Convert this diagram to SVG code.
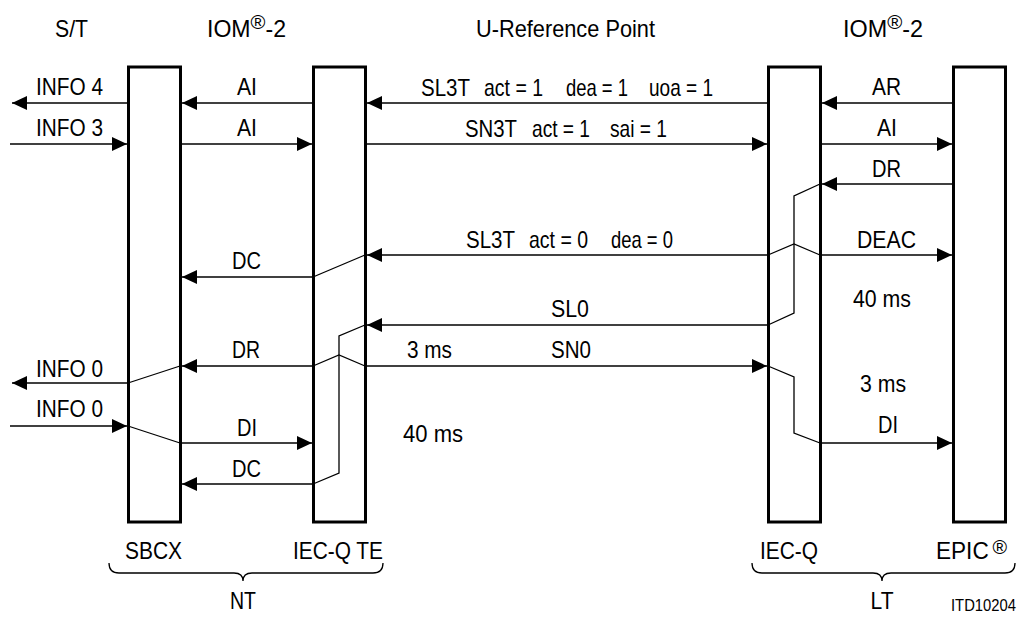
<svg xmlns="http://www.w3.org/2000/svg" width="1027" height="631" viewBox="0 0 1027 631">
<defs>
<marker id="ah" markerUnits="userSpaceOnUse" viewBox="0 0 15 14" refX="15" refY="7" markerWidth="15" markerHeight="14" orient="auto">
<path d="M0,0 L15,7 L0,14 Z" fill="#000"/>
</marker>
<style>
text{font-family:"Liberation Sans",Arial,sans-serif;font-size:24px;fill:#000}
.c{text-anchor:middle}
.r{font-size:21px}
.s{font-size:17px}
.box{fill:#fff;stroke:#000;stroke-width:3}
.a{stroke:#000;stroke-width:1.3;fill:none;marker-end:url(#ah)}
.l{stroke:#000;stroke-width:1.3;fill:none}
</style>
</defs>
<rect width="1027" height="631" fill="#fff"/>

<g id="headers">
<text x="55" y="37" textLength="33" lengthAdjust="spacingAndGlyphs">S/T</text>
<text x="207" y="37" textLength="79" lengthAdjust="spacingAndGlyphs">IOM<tspan class="r" dy="-8">®</tspan><tspan dy="8">-2</tspan></text>
<text x="476" y="37" textLength="179" lengthAdjust="spacingAndGlyphs">U-Reference Point</text>
<text x="843" y="37" textLength="80" lengthAdjust="spacingAndGlyphs">IOM<tspan class="r" dy="-8">®</tspan><tspan dy="8">-2</tspan></text>
</g>

<g id="node-sbcx">
<rect class="box" x="128.5" y="67" width="52" height="455"/>
<text x="125" y="559" textLength="57" lengthAdjust="spacingAndGlyphs">SBCX</text>
</g>
<g id="node-iecqte">
<rect class="box" x="313.5" y="67" width="52" height="455"/>
<text x="293" y="559" textLength="90" lengthAdjust="spacingAndGlyphs">IEC-Q TE</text>
</g>
<g id="node-iecq">
<rect class="box" x="768.5" y="67" width="52" height="455"/>
<text x="760" y="559" textLength="58" lengthAdjust="spacingAndGlyphs">IEC-Q</text>
</g>
<g id="node-epic">
<rect class="box" x="953.5" y="67" width="52" height="455"/>
<text x="936" y="559" textLength="71" lengthAdjust="spacingAndGlyphs">EPIC<tspan class="r" dx="4" dy="-5">®</tspan></text>
</g>

<g id="group-nt">
<path class="l" d="M109,563 Q109,573 119,573 L234,573 Q243,573 243,581 Q243,573 252,573 L373,573 Q383,573 383,563"/>
<text x="243" y="609" class="c" textLength="26" lengthAdjust="spacingAndGlyphs">NT</text>
</g>
<g id="group-lt">
<path class="l" d="M752,563 Q752,573 762,573 L873,573 Q882,573 882,581 Q882,573 891,573 L1005,573 Q1015,573 1015,563"/>
<text x="882" y="609" class="c" textLength="23" lengthAdjust="spacingAndGlyphs">LT</text>
</g>
<text x="951" y="611" class="s" textLength="65" lengthAdjust="spacingAndGlyphs">ITD10204</text>

<g id="connectors">
<line class="a" x1="127" y1="103" x2="12" y2="103"/>
<line class="a" x1="313" y1="103" x2="182" y2="103"/>
<line class="a" x1="768" y1="103" x2="367" y2="103"/>
<line class="a" x1="953" y1="103" x2="822" y2="103"/>

<line class="a" x1="10" y1="144" x2="127" y2="144"/>
<line class="a" x1="182" y1="144" x2="312" y2="144"/>
<line class="a" x1="367" y1="144" x2="767" y2="144"/>
<line class="a" x1="822" y1="144" x2="952" y2="144"/>

<line class="a" x1="953" y1="184" x2="822" y2="184"/>
<polyline class="l" points="820,184 794,196 794,313 768,325"/>

<line class="a" x1="768" y1="255" x2="367" y2="255"/>
<line class="a" x1="820" y1="255" x2="952" y2="255"/>
<polyline class="l" points="768,255 794,244 820,255"/>

<polyline class="l" points="365,255 313,277"/>
<line class="a" x1="313" y1="277" x2="182" y2="277"/>

<line class="a" x1="768" y1="325" x2="367" y2="325"/>
<polyline class="l" points="365,325 339,336 339,473 313,484"/>

<polyline class="l" points="313,366 339,355 365,366"/>
<line class="a" x1="313" y1="366" x2="182" y2="366"/>
<line class="a" x1="365" y1="366" x2="767" y2="366"/>
<polyline class="l" points="768,366 794,377 794,433 820,443"/>

<polyline class="l" points="180,366 128,383"/>
<line class="a" x1="128" y1="383" x2="12" y2="383"/>

<line class="a" x1="10" y1="426" x2="127" y2="426"/>
<polyline class="l" points="128,426 180,443"/>
<line class="a" x1="180" y1="443" x2="312" y2="443"/>
<line class="a" x1="820" y1="443" x2="952" y2="443"/>

<line class="a" x1="313" y1="484" x2="182" y2="484"/>
</g>

<g id="labels">
<text x="36" y="95" textLength="67" lengthAdjust="spacingAndGlyphs">INFO 4</text>
<text x="36" y="136" textLength="67" lengthAdjust="spacingAndGlyphs">INFO 3</text>
<text x="237" y="95" textLength="20" lengthAdjust="spacingAndGlyphs">AI</text>
<text x="237" y="136" textLength="20" lengthAdjust="spacingAndGlyphs">AI</text>
<text x="421" y="96" textLength="49" lengthAdjust="spacingAndGlyphs">SL3T</text>
<text x="484" y="96" textLength="59" lengthAdjust="spacingAndGlyphs">act = 1</text>
<text x="566" y="96" textLength="62" lengthAdjust="spacingAndGlyphs">dea = 1</text>
<text x="649" y="96" textLength="64" lengthAdjust="spacingAndGlyphs">uoa = 1</text>
<text x="465" y="137" textLength="52" lengthAdjust="spacingAndGlyphs">SN3T</text>
<text x="532" y="137" textLength="58" lengthAdjust="spacingAndGlyphs">act = 1</text>
<text x="610" y="137" textLength="57" lengthAdjust="spacingAndGlyphs">sai = 1</text>
<text x="872" y="95" textLength="29" lengthAdjust="spacingAndGlyphs">AR</text>
<text x="877" y="136" textLength="20" lengthAdjust="spacingAndGlyphs">AI</text>
<text x="872" y="177" textLength="29" lengthAdjust="spacingAndGlyphs">DR</text>
<text x="466" y="248" textLength="49" lengthAdjust="spacingAndGlyphs">SL3T</text>
<text x="529" y="248" textLength="59" lengthAdjust="spacingAndGlyphs">act = 0</text>
<text x="611" y="248" textLength="62" lengthAdjust="spacingAndGlyphs">dea = 0</text>
<text x="857" y="248" textLength="59" lengthAdjust="spacingAndGlyphs">DEAC</text>
<text x="232" y="269" textLength="29" lengthAdjust="spacingAndGlyphs">DC</text>
<text x="853" y="307" textLength="58" lengthAdjust="spacingAndGlyphs">40 ms</text>
<text x="551" y="317" textLength="38" lengthAdjust="spacingAndGlyphs">SL0</text>
<text x="232" y="358" textLength="28" lengthAdjust="spacingAndGlyphs">DR</text>
<text x="407" y="358" textLength="45" lengthAdjust="spacingAndGlyphs">3 ms</text>
<text x="551" y="358" textLength="40" lengthAdjust="spacingAndGlyphs">SN0</text>
<text x="36" y="377" textLength="67" lengthAdjust="spacingAndGlyphs">INFO 0</text>
<text x="860" y="392" textLength="46" lengthAdjust="spacingAndGlyphs">3 ms</text>
<text x="36" y="417" textLength="67" lengthAdjust="spacingAndGlyphs">INFO 0</text>
<text x="237" y="436" textLength="20" lengthAdjust="spacingAndGlyphs">DI</text>
<text x="878" y="433" textLength="20" lengthAdjust="spacingAndGlyphs">DI</text>
<text x="403" y="442" textLength="60" lengthAdjust="spacingAndGlyphs">40 ms</text>
<text x="232" y="477" textLength="29" lengthAdjust="spacingAndGlyphs">DC</text>
</g>
</svg>
